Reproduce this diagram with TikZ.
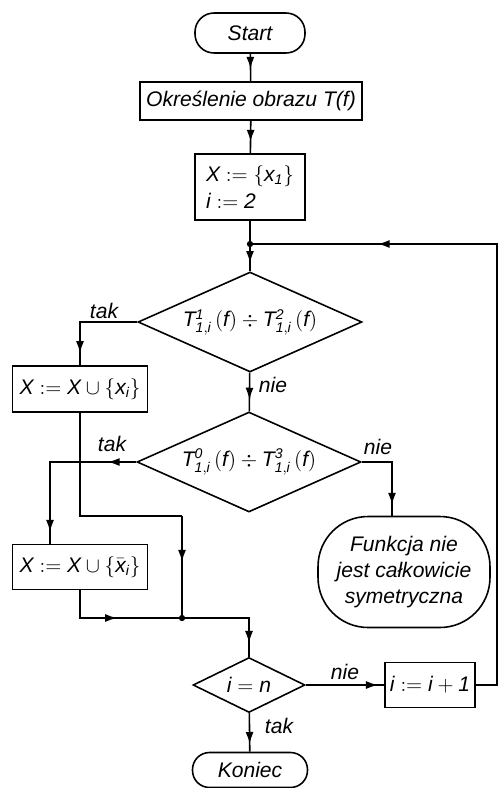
\documentclass[tikz,border=0pt]{standalone}
\usepackage{fontspec}
\setmainfont{Liberation Sans}
\usetikzlibrary{shapes.geometric,arrows.meta,decorations.markings}

\tikzset{
  every node/.style={font=\itshape\fontsize{12}{15}\selectfont},
  term/.style={draw, rectangle, rounded corners=0.38cm, minimum height=0.8cm},
  proc/.style={draw, rectangle, inner sep=2pt},
  decis/.style={draw, diamond, aspect=2.2, inner sep=0pt},
  marr/.style={postaction={decorate, decoration={markings,
      mark=at position #1 with {\arrow{Latex[length=2.4mm,width=1.6mm]}}}}},
}

\begin{document}
\begin{tikzpicture}[x=0.02cm, y=-0.02cm, line width=0.9pt]
  \useasboundingbox (0,0) rectangle (499,788);

  % main column
  \node[term, minimum width=2.2cm] (start) at (250,33) {Start};
  \node[proc, minimum width=4.44cm, minimum height=0.76cm] (okr) at (251,101)
    {Określenie obrazu T(f)};
  \node[proc, minimum width=2.2cm, minimum height=1.32cm, align=left] (init) at (250,187)
    {$\mathit{X}:=\{\mathit{x}_{\mathit{1}}\}$\\ $\mathit{i}:=\mathit{2}$};
  \coordinate (j1) at (250,244);
  \coordinate (rt) at (497,244);

  % tests on the images
  \node[decis, minimum width=4.48cm, minimum height=2cm] (dec1) at (250,322)
    {$\mathit{T}^{\mathit{1}}_{\mathit{1,i}}\,(\mathit{f})\div\mathit{T}^{\mathit{2}}_{\mathit{1,i}}\,(\mathit{f})$};
  \node[decis, minimum width=4.48cm, minimum height=2cm] (dec2) at (249,462)
    {$\mathit{T}^{\mathit{0}}_{\mathit{1,i}}\,(\mathit{f})\div\mathit{T}^{\mathit{3}}_{\mathit{1,i}}\,(\mathit{f})$};
  \node[proc, minimum width=2.7cm, minimum height=0.92cm] (box2) at (80,389)
    {$\mathit{X}:=\mathit{X}\cup\{\mathit{x}_{\mathit{i}}\}$};
  \node[proc, minimum width=2.7cm, minimum height=0.9cm] (box3) at (80,567)
    {$\mathit{X}:=\mathit{X}\cup\{\bar{\mathit{x}}_{\mathit{i}}\}$};
  \node[draw, rounded corners=1cm, minimum width=3.44cm, minimum height=2.22cm,
    align=center] (fail) at (404,572) {Funkcja nie\\ jest całkowicie\\ symetryczna};
  \coordinate (b2r) at (182,516);
  \coordinate (j2) at (182,618);

  % loop end
  \node[decis, minimum width=2.24cm, minimum height=1.1cm] (dec3) at (249,685)
    {$\mathit{i}=\mathit{n}$};
  \node[proc, minimum width=1.8cm, minimum height=0.9cm] (inc) at (430,685)
    {$\mathit{i}:=\mathit{i}+\mathit{1}$};
  \node[term, minimum width=2.3cm, minimum height=0.7cm, rounded corners=0.34cm] (stop)
    at (250,770) {Koniec};

  % labels
  \node (tak1) at (104,311) {tak};
  \node (nie1) at (273,385) {nie};
  \node (tak2) at (112,444) {tak};
  \node (nie2) at (378,447) {nie};
  \node (nie3) at (345,672) {nie};
  \node (tak3) at (279,726) {tak};

  % connectors
  \draw[marr=0.55] (start) -- (okr);
  \draw[marr=0.65] (okr) -- (init);
  \draw (init) -- (j1);
  \draw[marr=0.7] (j1) -- (dec1);
  \draw[marr=0.88] (dec1.west) -| (box2);
  \draw[marr=0.7] (dec1) -- (dec2);
  \draw[marr=0.17, marr=0.93] (dec2.west) -| ([xshift=-0.6cm]box3.north);
  \draw[marr=0.87] (dec2.east) -| ([xshift=-0.24cm]fail.north);
  \draw (box2) |- (b2r);
  \draw[marr=0.45] (b2r) -- (j2);
  \draw[marr=0.5] (box3) |- (j2);
  \draw[marr=0.87] (j2) -| (dec3);
  \draw[marr=0.92] (dec3) -- (inc);
  \draw[marr=0.8] (dec3) -- (stop);
  \draw[marr=0.82] (inc) -| (rt) -- (j1);
  \fill (j1) circle (1.8pt);
  \fill (j2) circle (1.8pt);
\end{tikzpicture}
\end{document}
